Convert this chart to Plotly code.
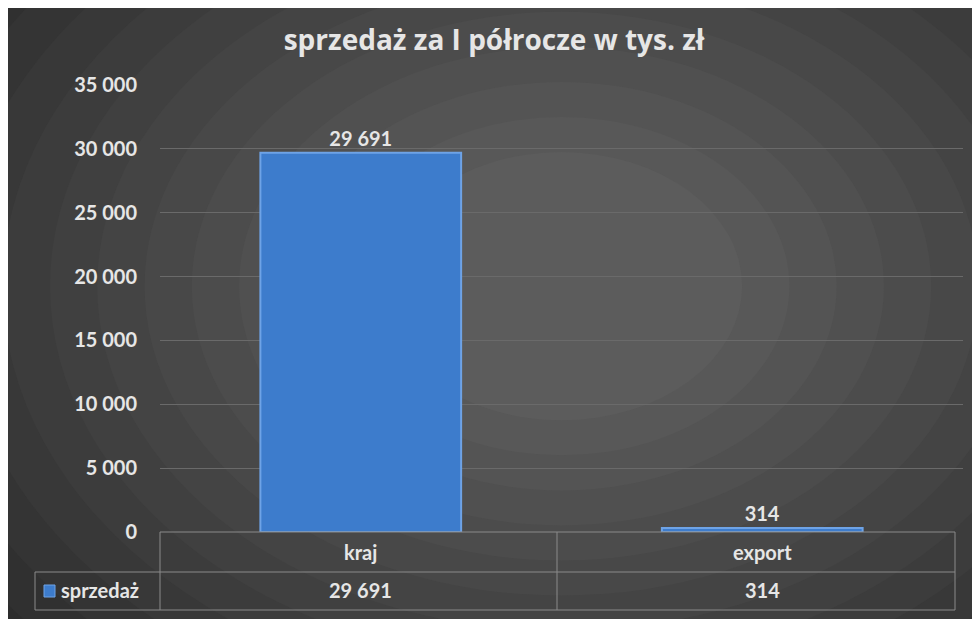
import plotly.graph_objects as go

categories = ["kraj", "export"]
values = [29691, 314]
series_name = "sprzedaż"
title = "sprzedaż za I półrocze w tys. zł"

def fmt(v):
    return f"{v:,}".replace(",", " ")

O = 8  # page body margin
W, H = 980 - O, 619 - O
L, R, T, B = 160 - O, 25 - O, 85 - O, 87
ph = H - T - B
pw = W - L - R
def py(p): return (H - B - (p - O)) / ph
def px(p): return ((p - O) - L) / pw

tf = dict(color="#e6e6e6", size=20, family="Lato", weight="bold")

fig = go.Figure()
fig.add_trace(go.Bar(
    x=categories, y=values, width=0.5, name=series_name,
    marker=dict(color="#3d7ccc", line=dict(color="#6ea3e6", width=2)),
    text=[fmt(v) for v in values], textposition="outside",
    textfont=tf, cliponaxis=False,
))

shapes = []
steps = 14
for i in range(steps):
    f = i / (steps - 1)
    c = int(40 + (92 - 40) * f)
    r = 1.1 - 0.85 * f
    shapes.append(dict(type="circle", xref="paper", yref="paper", layer="below",
                       x0=0.5 - r * 0.9, x1=0.5 + r * 0.9, y0=0.55 - r * 1.2, y1=0.55 + r * 1.2,
                       fillcolor=f"rgb({c},{c},{c})", line=dict(width=0)))
lc = "#8a8a8a"
def hline(x0, x1, y):
    shapes.append(dict(type="line", xref="paper", yref="paper", x0=px(x0), x1=px(x1), y0=py(y), y1=py(y), line=dict(color=lc, width=1)))
def vline(x, y0, y1):
    shapes.append(dict(type="line", xref="paper", yref="paper", x0=px(x), x1=px(x), y0=py(y0), y1=py(y1), line=dict(color=lc, width=1)))
hline(160, 955, 532); hline(35, 955, 572); hline(35, 955, 610)
vline(35, 572, 610); vline(160, 532, 610); vline(557, 532, 610); vline(955, 532, 610)
shapes.append(dict(type="rect", xref="paper", yref="paper", x0=px(44), x1=px(55), y0=py(597), y1=py(585),
                   fillcolor="#3d7ccc", line=dict(color="#6ea3e6", width=1)))

ann = []
for c, v in zip(categories, values):
    ann.append(dict(x=c, xref="x", y=py(552), yref="paper", yanchor="middle", text=c, showarrow=False, font=tf))
    ann.append(dict(x=c, xref="x", y=py(590), yref="paper", yanchor="middle", text=fmt(v), showarrow=False, font=tf))
ann.append(dict(x=px(59), xref="paper", xanchor="left", y=py(590), yref="paper", yanchor="middle",
                text=series_name, showarrow=False, font=tf))

fig.update_layout(
    width=W, height=H, margin=dict(l=L, r=R, t=T, b=B),
    paper_bgcolor="#333333", plot_bgcolor="rgba(0,0,0,0)",
    separators=". ", showlegend=False,
    title=dict(text=title, x=0.5, xanchor="center", y=1 - (40 - O) / H, yanchor="middle",
               font=dict(color="#e6e6e6", size=28, family="Open Sans", weight="bold")),
    xaxis=dict(range=[-0.5, 1.5], showticklabels=False, showgrid=False, zeroline=False),
    yaxis=dict(range=[0, 35000], dtick=5000, tickformat=",d", gridcolor="#6a6a6a",
               zeroline=False, ticks="", tickfont=tf, ticklabelstandoff=22),
    shapes=shapes, annotations=ann,
)
fig.write_html("out.html")
